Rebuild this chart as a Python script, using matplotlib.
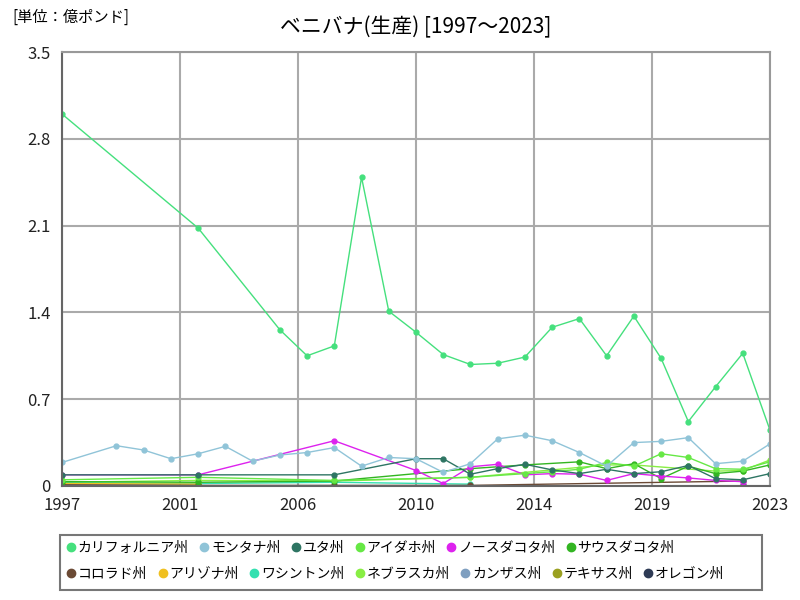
import matplotlib
matplotlib.use("Agg")
import matplotlib.pyplot as plt
from matplotlib.lines import Line2D
from matplotlib.patches import Rectangle
import numpy as np

plt.rcParams['font.family'] = ['Noto Sans CJK JP', 'DejaVu Sans']

# ---- data (億ポンド) ----
ca_years = [1997, 2002, 2005, 2006, 2007, 2008, 2009, 2010, 2011, 2012, 2013, 2014, 2015, 2016, 2017, 2018, 2019, 2020, 2021, 2022, 2023]
ca_vals = [3.0, 2.08, 1.26, 1.05, 1.13, 2.49, 1.41, 1.24, 1.06, 0.98, 0.99, 1.04, 1.28, 1.35, 1.05, 1.37, 1.03, 0.52, 0.80, 1.07, 0.45]

mt_years = [1997, 1999, 2000, 2001, 2002, 2003, 2004, 2005, 2006, 2007, 2008, 2009, 2010, 2011, 2012, 2013, 2014, 2015, 2016, 2017, 2018, 2019, 2020, 2021, 2022, 2023]
mt_vals = [0.19, 0.325, 0.29, 0.22, 0.26, 0.32, 0.20, 0.25, 0.27, 0.31, 0.16, 0.23, 0.22, 0.11, 0.18, 0.38, 0.41, 0.365, 0.27, 0.16, 0.35, 0.36, 0.39, 0.18, 0.20, 0.34]

ut_years = [1997, 2002, 2007, 2010, 2011, 2012, 2013, 2014, 2015, 2016, 2017, 2018, 2019, 2020, 2021, 2022, 2023]
ut_vals = [0.09, 0.09, 0.09, 0.22, 0.22, 0.095, 0.14, 0.175, 0.13, 0.10, 0.135, 0.10, 0.115, 0.165, 0.06, 0.05, 0.10]

id_years = [1997, 2002, 2007, 2012, 2014, 2015, 2016, 2017, 2018, 2019, 2020, 2021, 2022, 2023]
id_vals = [0.05, 0.07, 0.045, 0.07, 0.10, 0.115, 0.135, 0.19, 0.16, 0.26, 0.23, 0.14, 0.135, 0.195]

nd_years = [1997, 2002, 2007, 2010, 2011, 2012, 2013, 2014, 2015, 2016, 2017, 2018, 2019, 2020, 2021, 2022]
nd_vals = [0.09, 0.09, 0.365, 0.125, 0.02, 0.155, 0.175, 0.09, 0.10, 0.095, 0.045, 0.10, 0.08, 0.065, 0.045, 0.035]

sd_years = [1997, 2002, 2007, 2012, 2014, 2016, 2017, 2018, 2019, 2020, 2021, 2022, 2023]
sd_vals = [0.035, 0.03, 0.04, 0.14, 0.17, 0.195, 0.14, 0.18, 0.06, 0.16, 0.10, 0.12, 0.17]

co_years = [1997, 2002, 2007, 2012, 2022]
co_vals = [0.01, 0.005, 0.005, 0.005, 0.04]

az_years = [1997, 2002]
az_vals = [0.02, 0.015]

wa_years = [1997, 2002, 2007, 2012]
wa_vals = [0.025, 0.02, 0.03, 0.015]

ne_years = [1997, 2002, 2007, 2012, 2017, 2018, 2021, 2022, 2023]
ne_vals = [0.03, 0.045, 0.04, 0.07, 0.17, 0.17, 0.12, 0.125, 0.21]

ks_years = [1997, 2002]
ks_vals = [0.01, 0.01]

tx_years = [1997, 2002]
tx_vals = [0.005, 0.005]

or_years = [2022]
or_vals = [0.01]

names = ['カリフォルニア州', 'モンタナ州', 'ユタ州', 'アイダホ州', 'ノースダコタ州', 'サウスダコタ州',
         'コロラド州', 'アリゾナ州', 'ワシントン州', 'ネブラスカ州', 'カンザス州', 'テキサス州', 'オレゴン州']
series = [(ca_years, ca_vals), (mt_years, mt_vals), (ut_years, ut_vals), (id_years, id_vals),
          (nd_years, nd_vals), (sd_years, sd_vals), (co_years, co_vals), (az_years, az_vals),
          (wa_years, wa_vals), (ne_years, ne_vals), (ks_years, ks_vals), (tx_years, tx_vals),
          (or_years, or_vals)]
colors = ['#45e07d', '#90c4d8', '#2e7563', '#66e845', '#dd22ee', '#33b522',
          '#6b4a35', '#f0c020', '#33e0b0', '#88ee44', '#7f9fc0', '#9aa020', '#2e3b55']

fig = plt.figure(figsize=(8, 6), dpi=100)
ax = fig.add_axes([0.0775, 0.19, 0.885, 0.7233])

# draw back to front so California is on top
for (yrs, vals), c in reversed(list(zip(series, colors))):
    ax.plot(yrs, vals, color=c, lw=1.0, marker='o', ms=3.5, mec=c, mfc=c)

ax.set_xlim(1997, 2023)
ax.set_ylim(0, 3.5)
xt = np.linspace(1997, 2023, 7)
ax.set_xticks(xt)
ax.set_xticklabels([str(int(round(v))) for v in xt])
ax.set_yticks([0, 0.7, 1.4, 2.1, 2.8, 3.5])
ax.set_yticklabels(['0', '0.7', '1.4', '2.1', '2.8', '3.5'])
ax.grid(True, color='#aaaaaa', lw=1.5)
ax.set_axisbelow(True)
for s in ax.spines.values():
    s.set_color('#999999')
    s.set_linewidth(1.5)
ax.spines['left'].set_color('#666666')
ax.spines['bottom'].set_color('#666666')
ax.tick_params(length=0, labelsize=12, colors='#222222', pad=8)

fig.text(0.52, 0.955, 'ベニバナ(生産) [1997～2023]', ha='center', va='center', fontsize=15)
fig.text(0.015, 0.972, '[単位：億ポンド]', ha='left', va='center', fontsize=11)

# legend: two rows (6 + 7 items) inside one frame
handles = [Line2D([], [], ls='none', marker='o', ms=6, color=c) for c in colors]
fig.patches.append(Rectangle((0.075, 0.017), 0.878, 0.092, transform=fig.transFigure,
                             fill=False, edgecolor='#777777', lw=1.5))
kw = dict(loc='upper left', frameon=False, fontsize=10, handletextpad=0.0,
          columnspacing=0.6, handlelength=1.0, borderpad=0.0, borderaxespad=0.0)
leg1 = fig.legend(handles[:6], names[:6], bbox_to_anchor=(0.08, 0.098), ncol=6, **kw)
leg2 = fig.legend(handles[6:], names[6:], bbox_to_anchor=(0.08, 0.055), ncol=7, **kw)

fig.savefig('out.png', dpi=100)
